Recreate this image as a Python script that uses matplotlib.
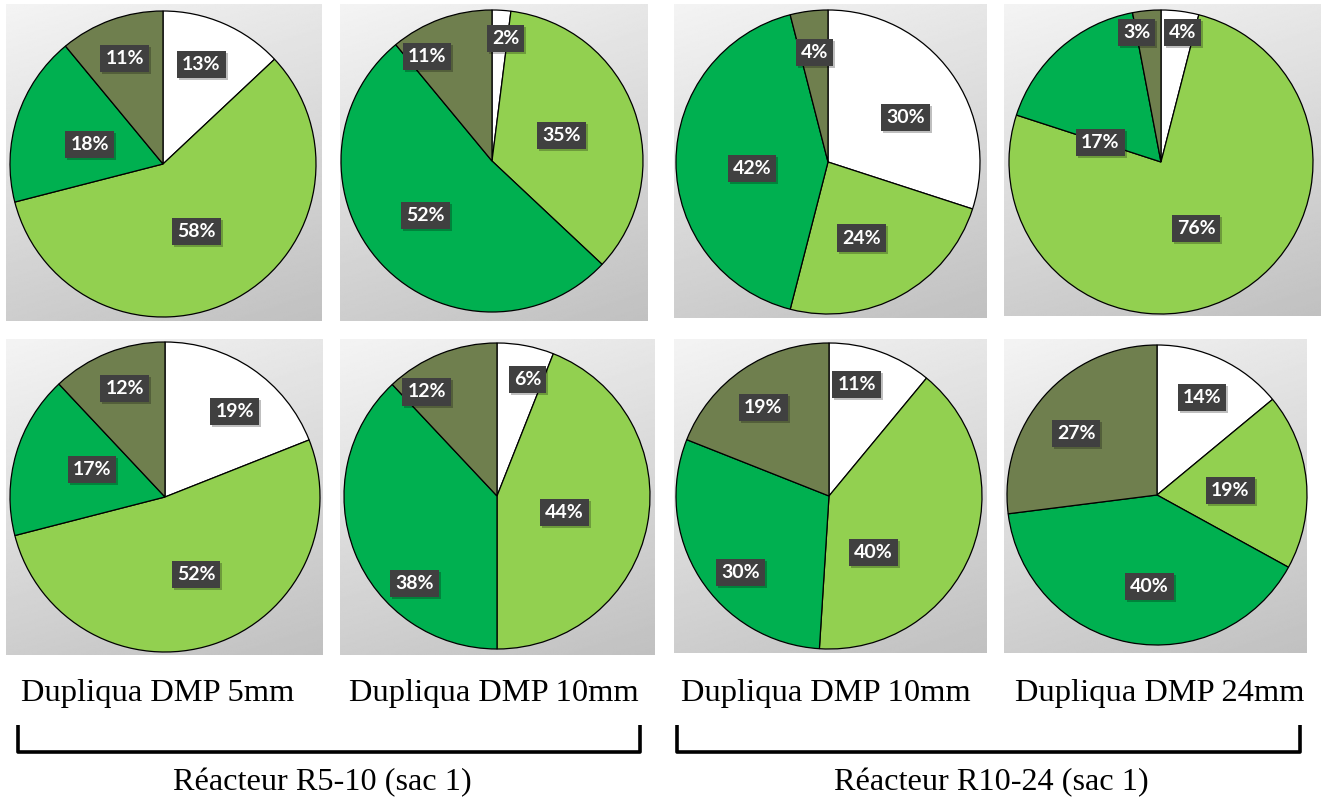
import numpy as np
import matplotlib
matplotlib.use("Agg")
import matplotlib.pyplot as plt

W, H = 1321, 802

# ---- data ----
categories = ["Cat A", "Cat B", "Cat C", "Cat D"]
pie_values = [
    [13, 58, 18, 11],   # R5-10, DMP 5mm, rep 1
    [2, 35, 52, 11],    # R5-10, DMP 10mm, rep 1
    [30, 24, 42, 4],    # R10-24, DMP 10mm, rep 1
    [4, 76, 17, 3],     # R10-24, DMP 24mm, rep 1
    [19, 52, 17, 12],   # R5-10, DMP 5mm, rep 2
    [6, 44, 38, 12],    # R5-10, DMP 10mm, rep 2
    [11, 40, 30, 19],   # R10-24, DMP 10mm, rep 2
    [14, 19, 40, 27],   # R10-24, DMP 24mm, rep 2
]
column_labels = ["Dupliqua DMP 5mm", "Dupliqua DMP 10mm",
                 "Dupliqua DMP 10mm", "Dupliqua DMP 24mm"]
group_labels = ["Réacteur R5-10 (sac 1)", "Réacteur R10-24 (sac 1)"]

# ---- style / layout ----
colors = ["#FFFFFF", "#92D050", "#00B050", "#6F7F4E"]
# panel boxes (x0, y0, x1, y1) in pixels (y down)
panels = [
    (6, 4, 322, 321), (340, 4, 648, 321), (674, 4, 987, 318), (1004, 4, 1321, 316),
    (6, 339, 323, 655), (340, 339, 655, 655), (674, 339, 987, 653), (1004, 339, 1307, 653),
]
# pie centre and radius in pixels
pie_geom = [
    (163, 164, 153), (492, 161, 151), (828, 162, 152), (1161, 162, 152),
    (165, 497, 155), (497, 496, 153), (829, 496, 153), (1157, 495, 150),
]
# label offsets relative to pie centre, in radius units (x right, y down)
label_offsets = [
    [(0.25, -0.65), (0.22, 0.44), (-0.48, -0.13), (-0.25, -0.69)],
    [(0.09, -0.81), (0.46, -0.17), (-0.44, 0.36), (-0.43, -0.69)],
    [(0.51, -0.29), (0.22, 0.50), (-0.50, 0.04), (-0.09, -0.72)],
    [(0.14, -0.85), (0.23, 0.44), (-0.40, -0.13), (-0.16, -0.85)],
    [(0.45, -0.55), (0.20, 0.50), (-0.47, -0.18), (-0.26, -0.70)],
    [(0.20, -0.76), (0.44, 0.11), (-0.54, 0.57), (-0.46, -0.68)],
    [(0.18, -0.73), (0.29, 0.37), (-0.58, 0.50), (-0.43, -0.58)],
    [(0.30, -0.65), (0.49, -0.03), (-0.05, 0.61), (-0.54, -0.41)],
]

fig = plt.figure(figsize=(W / 100, H / 100), dpi=100)
fig.patch.set_facecolor("white")

# background gradient
gy, gx = np.mgrid[0:1:200j, 0:1:200j]
grad = 0.955 - 0.20 * (0.75 * gy + 0.25 * gx)

lab_font = ["Lato", "DejaVu Sans"]
for i, vals in enumerate(pie_values):
    x0, y0, x1, y1 = panels[i]
    ax = fig.add_axes([x0 / W, 1 - y1 / H, (x1 - x0) / W, (y1 - y0) / H])
    ax.set_xlim(x0, x1)
    ax.set_ylim(H - y1, H - y0)
    ax.imshow(grad, cmap="gray", vmin=0, vmax=1, extent=(x0, x1, H - y1, H - y0),
              aspect="auto", origin="upper", zorder=0, interpolation="bilinear")
    cx, cy, r = pie_geom[i]
    wedges, _ = ax.pie(vals, colors=colors, startangle=90, counterclock=False,
                       center=(cx, H - cy), radius=r, frame=True,
                       wedgeprops=dict(edgecolor="black", linewidth=0.9))
    for w in wedges:
        w.set_zorder(2)
    ax.set_xlim(x0, x1)
    ax.set_ylim(H - y1, H - y0)
    ax.set_aspect("auto")
    ax.axis("off")
    for v, (dx, dy) in zip(vals, label_offsets[i]):
        tx, ty = cx + dx * r, H - (cy + dy * r)
        # shadow box
        ax.text(tx + 2, ty - 2, f"{v}%", fontsize=14, fontweight="bold",
                family=lab_font, color="none", ha="center", va="center",
                bbox=dict(boxstyle="square,pad=0.26", fc="#000000", ec="none", alpha=0.25),
                zorder=3)
        ax.text(tx, ty, f"{v}%", fontsize=14, fontweight="bold",
                family=lab_font, color="white", ha="center", va="center",
                bbox=dict(boxstyle="square,pad=0.26", fc="#404040", ec="none"),
                zorder=4)

# overlay axes for the bottom annotations
ov = fig.add_axes([0, 0, 1, 1], facecolor="none")
ov.set_xlim(0, W)
ov.set_ylim(H, 0)
ov.axis("off")

serif = ["Liberation Serif", "DejaVu Serif"]
col_x = [158, 494, 826, 1160]
for x, lab in zip(col_x, column_labels):
    ov.text(x, 694, lab, ha="center", va="center", fontsize=23.4, family=serif, color="black")

brackets = [(18, 640), (677, 1300)]
for (a, b) in brackets:
    ov.plot([a, a, b, b], [725, 752, 752, 725], color="black", lw=2.6,
            solid_joinstyle="round", solid_capstyle="butt")

grp_x = [322, 991]
for x, lab in zip(grp_x, group_labels):
    ov.text(x, 783, lab, ha="center", va="center", fontsize=23.2, family=serif, color="black")

fig.savefig("out.png", dpi=100)
